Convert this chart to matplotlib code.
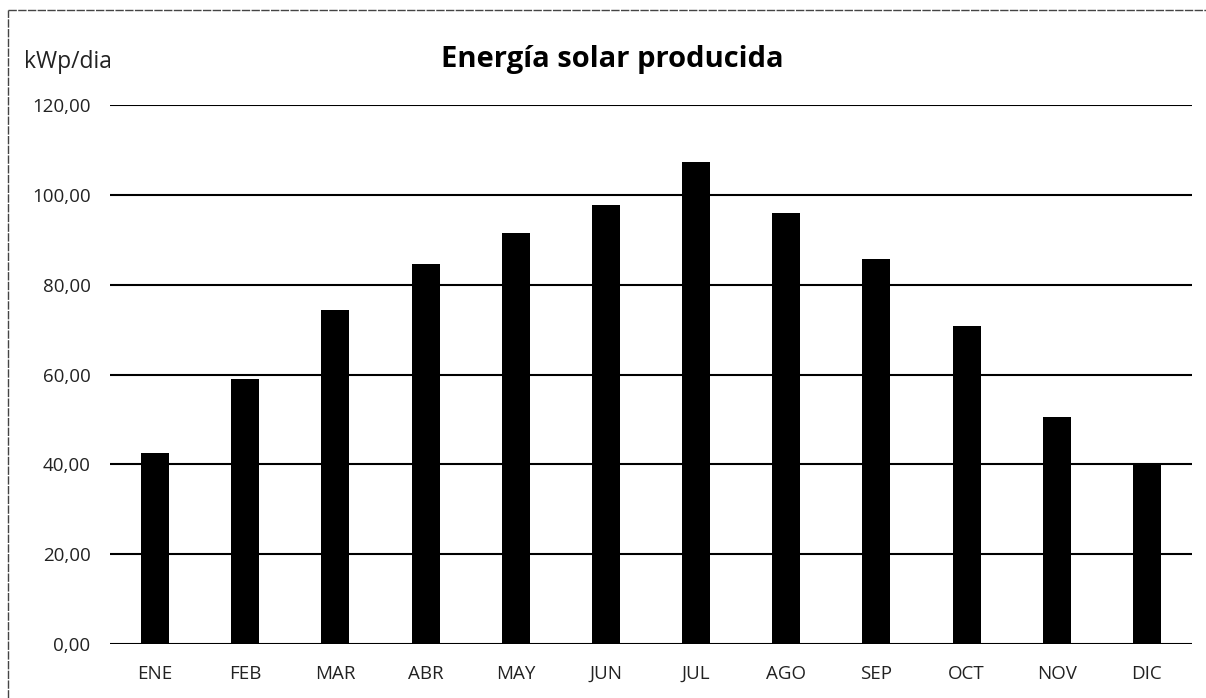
import matplotlib.pyplot as plt
from matplotlib.lines import Line2D

meses = ['ENE', 'FEB', 'MAR', 'ABR', 'MAY', 'JUN', 'JUL', 'AGO', 'SEP', 'OCT', 'NOV', 'DIC']
energia = [42.5, 58.9, 74.3, 84.7, 91.4, 97.7, 107.3, 95.9, 85.7, 70.8, 50.6, 39.9]
y_ticks = [0, 20, 40, 60, 80, 100, 120]

plt.rcParams['font.family'] = ['Open Sans', 'DejaVu Sans']

fig = plt.figure(figsize=(12.06, 6.98), dpi=100)
ax = fig.add_axes([110 / 1206, 54 / 698, 1082 / 1206, 539 / 698])

x = range(len(meses))
ax.bar(x, energia, width=0.31, color='black', zorder=3)

ax.set_xlim(-0.5, len(meses) - 0.5)
ax.set_ylim(0, 120)
ax.set_yticks(y_ticks)
ax.set_yticklabels([f'{v:.2f}'.replace('.', ',') for v in y_ticks], fontsize=13.5)
ax.set_xticks(list(x))
ax.set_xticklabels(meses, fontsize=13.5)
ax.tick_params(length=0, colors='#222222')
ax.tick_params(axis='x', pad=15)
ax.tick_params(axis='y', pad=14)
ax.grid(axis='y', color='black', linewidth=1.5, zorder=0)
for s in ax.spines.values():
    s.set_visible(False)

fig.text(612 / 1206, 1 - 60 / 698, 'Energía solar producida', ha='center', va='center',
         fontsize=21, fontweight='bold')
fig.text(24 / 1206, 1 - 62 / 698, 'kWp/dia', ha='left', va='center', fontsize=16.5, color='#222222')

# marco del grafico escaneado
fig.add_artist(Line2D([8 / 1206, 8 / 1206], [0, 1 - 10 / 698], transform=fig.transFigure,
                      color='#444444', linewidth=1.0, linestyle=(0, (6, 1))))
fig.add_artist(Line2D([8 / 1206, 1], [1 - 10 / 698, 1 - 10 / 698], transform=fig.transFigure,
                      color='#444444', linewidth=1.0, linestyle=(0, (6, 1))))

fig.savefig('out.png', dpi=100)
